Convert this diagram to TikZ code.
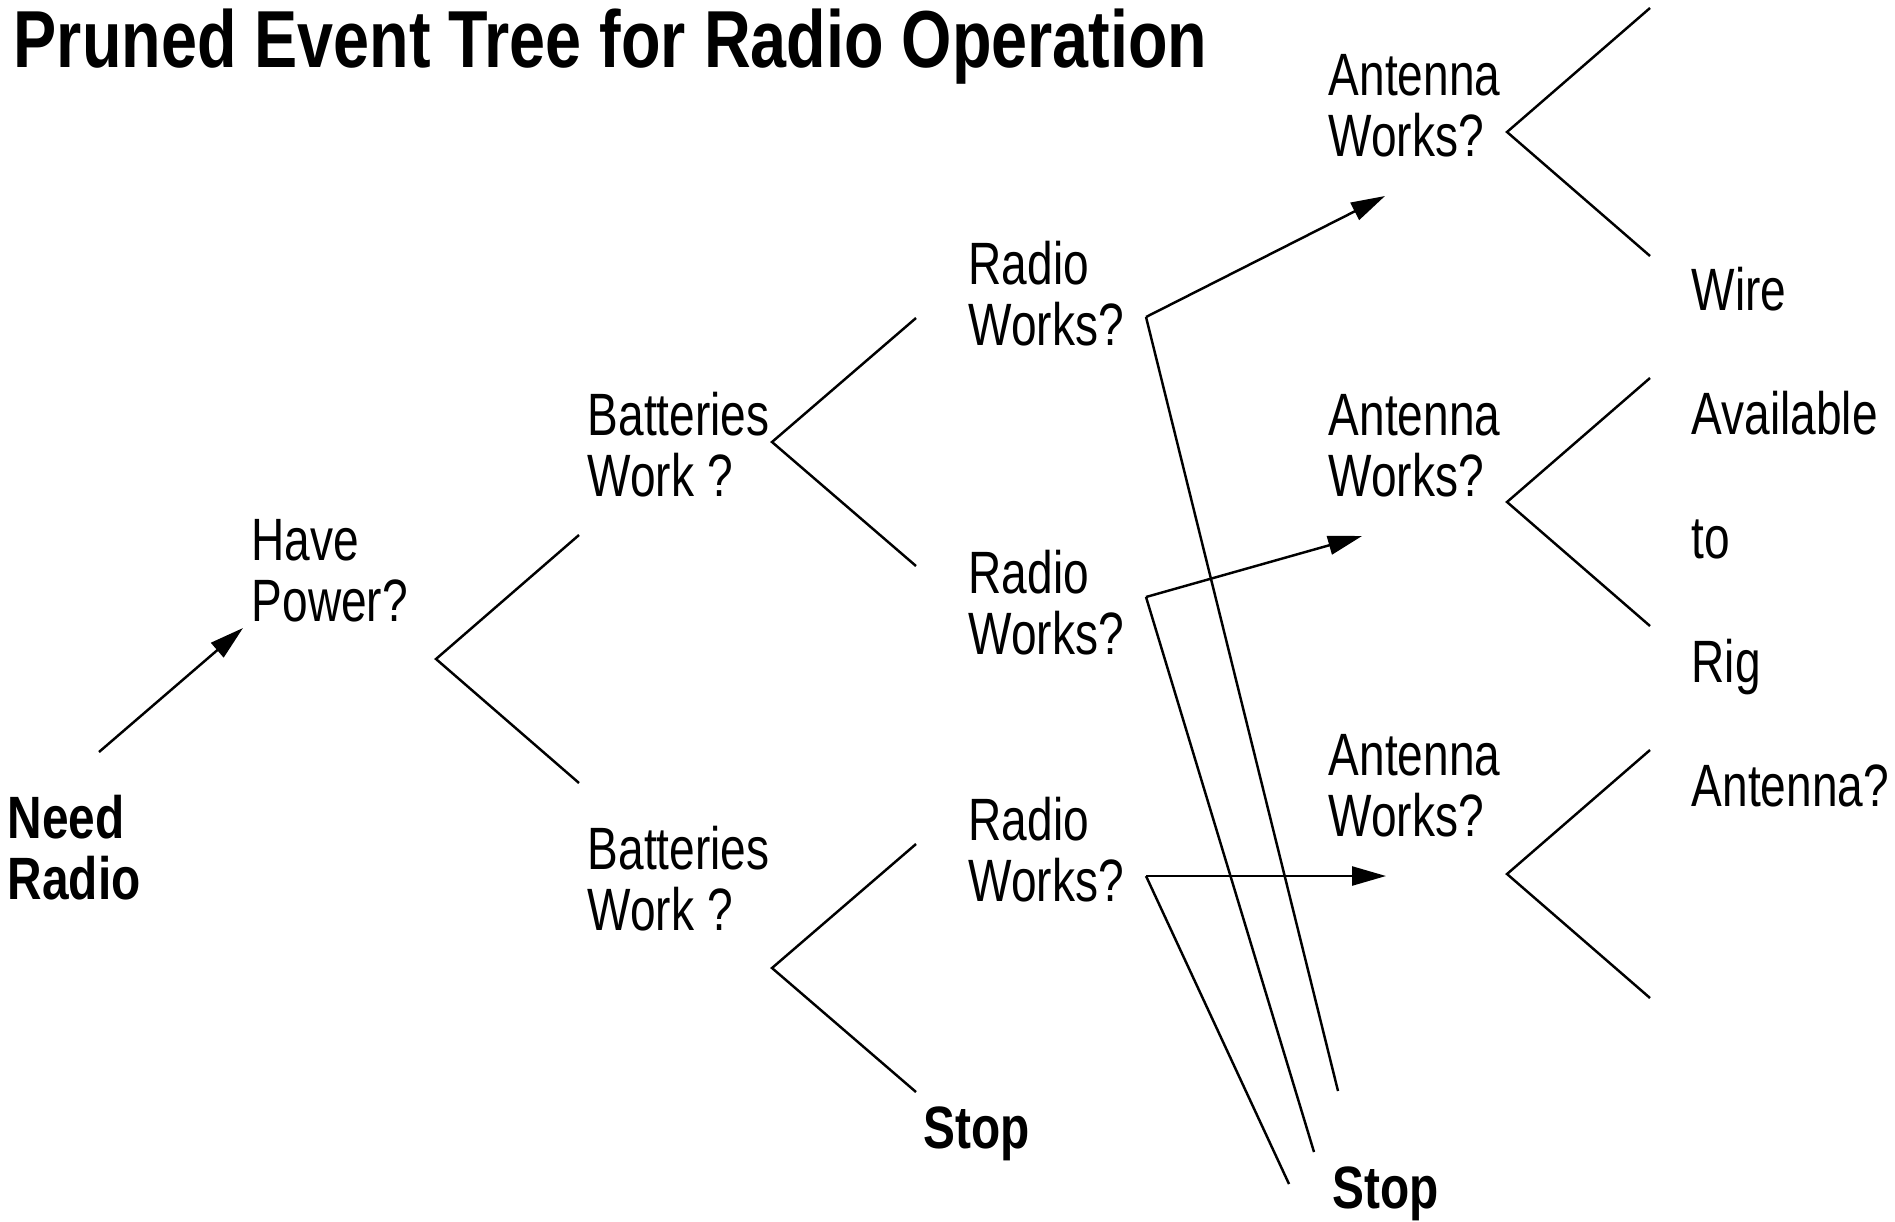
\documentclass[tikz,border=0pt]{standalone}
\usepackage{fontspec}
\usetikzlibrary{arrows.meta}
% condensed sans used for every label
\newfontfamily\narrowsans[FakeStretch=0.77,BoldFeatures={FakeStretch=0.80}]{Liberation Sans}
\newcommand{\twolines}[2]{\begin{tabular}[t]{@{}l@{}}#1\\#2\end{tabular}}
\begin{document}
\begin{tikzpicture}[x=0.01cm,y=-0.01cm,
  lbl/.style={anchor=base west,inner sep=0pt,
    font=\narrowsans\fontsize{17pt}{17.5pt}\selectfont},
  boldlbl/.style={lbl,font=\narrowsans\bfseries\fontsize{17pt}{17.5pt}\selectfont},
  heading/.style={anchor=base west,inner sep=0pt,
    font=\narrowsans\bfseries\fontsize{23pt}{27pt}\selectfont},
  column/.style={lbl,font=\narrowsans\fontsize{17pt}{35.3pt}\selectfont},
  branch/.style={line width=0.7pt},
  arr/.style={line width=0.7pt,-{Triangle[length=0.34cm,width=0.19cm]}}]
\useasboundingbox (0,0) rectangle (1895,1221);

% ---- labels ----
\node[heading] (title) at (13,67) {Pruned Event Tree for Radio Operation};
\node[boldlbl] (need) at (7,838) {\twolines{Need}{Radio}};
\node[lbl] (have) at (251,560) {\twolines{Have}{Power?}};
\node[lbl] (bat1) at (587,435) {\twolines{Batteries}{Work ?}};
\node[lbl] (bat2) at (587,869) {\twolines{Batteries}{Work ?}};
\node[lbl] (radio1) at (968,284) {\twolines{Radio}{Works?}};
\node[lbl] (radio2) at (968,593) {\twolines{Radio}{Works?}};
\node[lbl] (radio3) at (968,840) {\twolines{Radio}{Works?}};
\node[lbl] (ant1) at (1328,95) {\twolines{Antenna}{Works?}};
\node[lbl] (ant2) at (1328,435) {\twolines{Antenna}{Works?}};
\node[lbl] (ant3) at (1328,775) {\twolines{Antenna}{Works?}};
\node[boldlbl] (stop1) at (923,1148) {Stop};
\node[boldlbl] (stop2) at (1332,1208) {Stop};
\node[column] (note) at (1691,310)
  {\begin{tabular}[t]{@{}l@{}}Wire\\Available\\to\\Rig\\Antenna?\end{tabular}};

% ---- branch points ----
\coordinate (needS) at (99,752);   \coordinate (haveT) at (243,628);
\coordinate (hpV) at (436,659);    \coordinate (hpU) at (579,535);   \coordinate (hpD) at (579,783);
\coordinate (b1V) at (772,442);    \coordinate (b1U) at (916,318);   \coordinate (b1D) at (916,566);
\coordinate (b2V) at (772,968);    \coordinate (b2U) at (916,844);   \coordinate (b2D) at (916,1092);
\coordinate (a1V) at (1507,132);   \coordinate (a1U) at (1650,8);    \coordinate (a1D) at (1650,256);
\coordinate (a2V) at (1507,502);   \coordinate (a2U) at (1650,378);  \coordinate (a2D) at (1650,626);
\coordinate (a3V) at (1507,874);   \coordinate (a3U) at (1650,750);  \coordinate (a3D) at (1650,998);
\coordinate (r1V) at (1146,317);   \coordinate (r1T) at (1385,196);  \coordinate (r1S) at (1338,1091);
\coordinate (r2V) at (1146,597);   \coordinate (r2T) at (1362,536);  \coordinate (r2S) at (1314,1152);
\coordinate (r3V) at (1146,876);   \coordinate (r3T) at (1386,876);  \coordinate (r3S) at (1289,1184);

% ---- forks ----
\draw[branch] (hpU) -- (hpV) -- (hpD);
\draw[branch] (b1U) -- (b1V) -- (b1D);
\draw[branch] (b2U) -- (b2V) -- (b2D);
\draw[branch] (a1U) -- (a1V) -- (a1D);
\draw[branch] (a2U) -- (a2V) -- (a2D);
\draw[branch] (a3U) -- (a3V) -- (a3D);

% ---- radio outcomes: success arrows and failure lines to Stop ----
\draw[branch] (r1V) -- (r1S);
\draw[branch] (r2V) -- (r2S);
\draw[branch] (r3V) -- (r3S);
\draw[arr] (r1V) -- (r1T);
\draw[arr] (r2V) -- (r2T);
\draw[arr] (r3V) -- (r3T);
\draw[arr] (needS) -- (haveT);
\end{tikzpicture}
\end{document}
